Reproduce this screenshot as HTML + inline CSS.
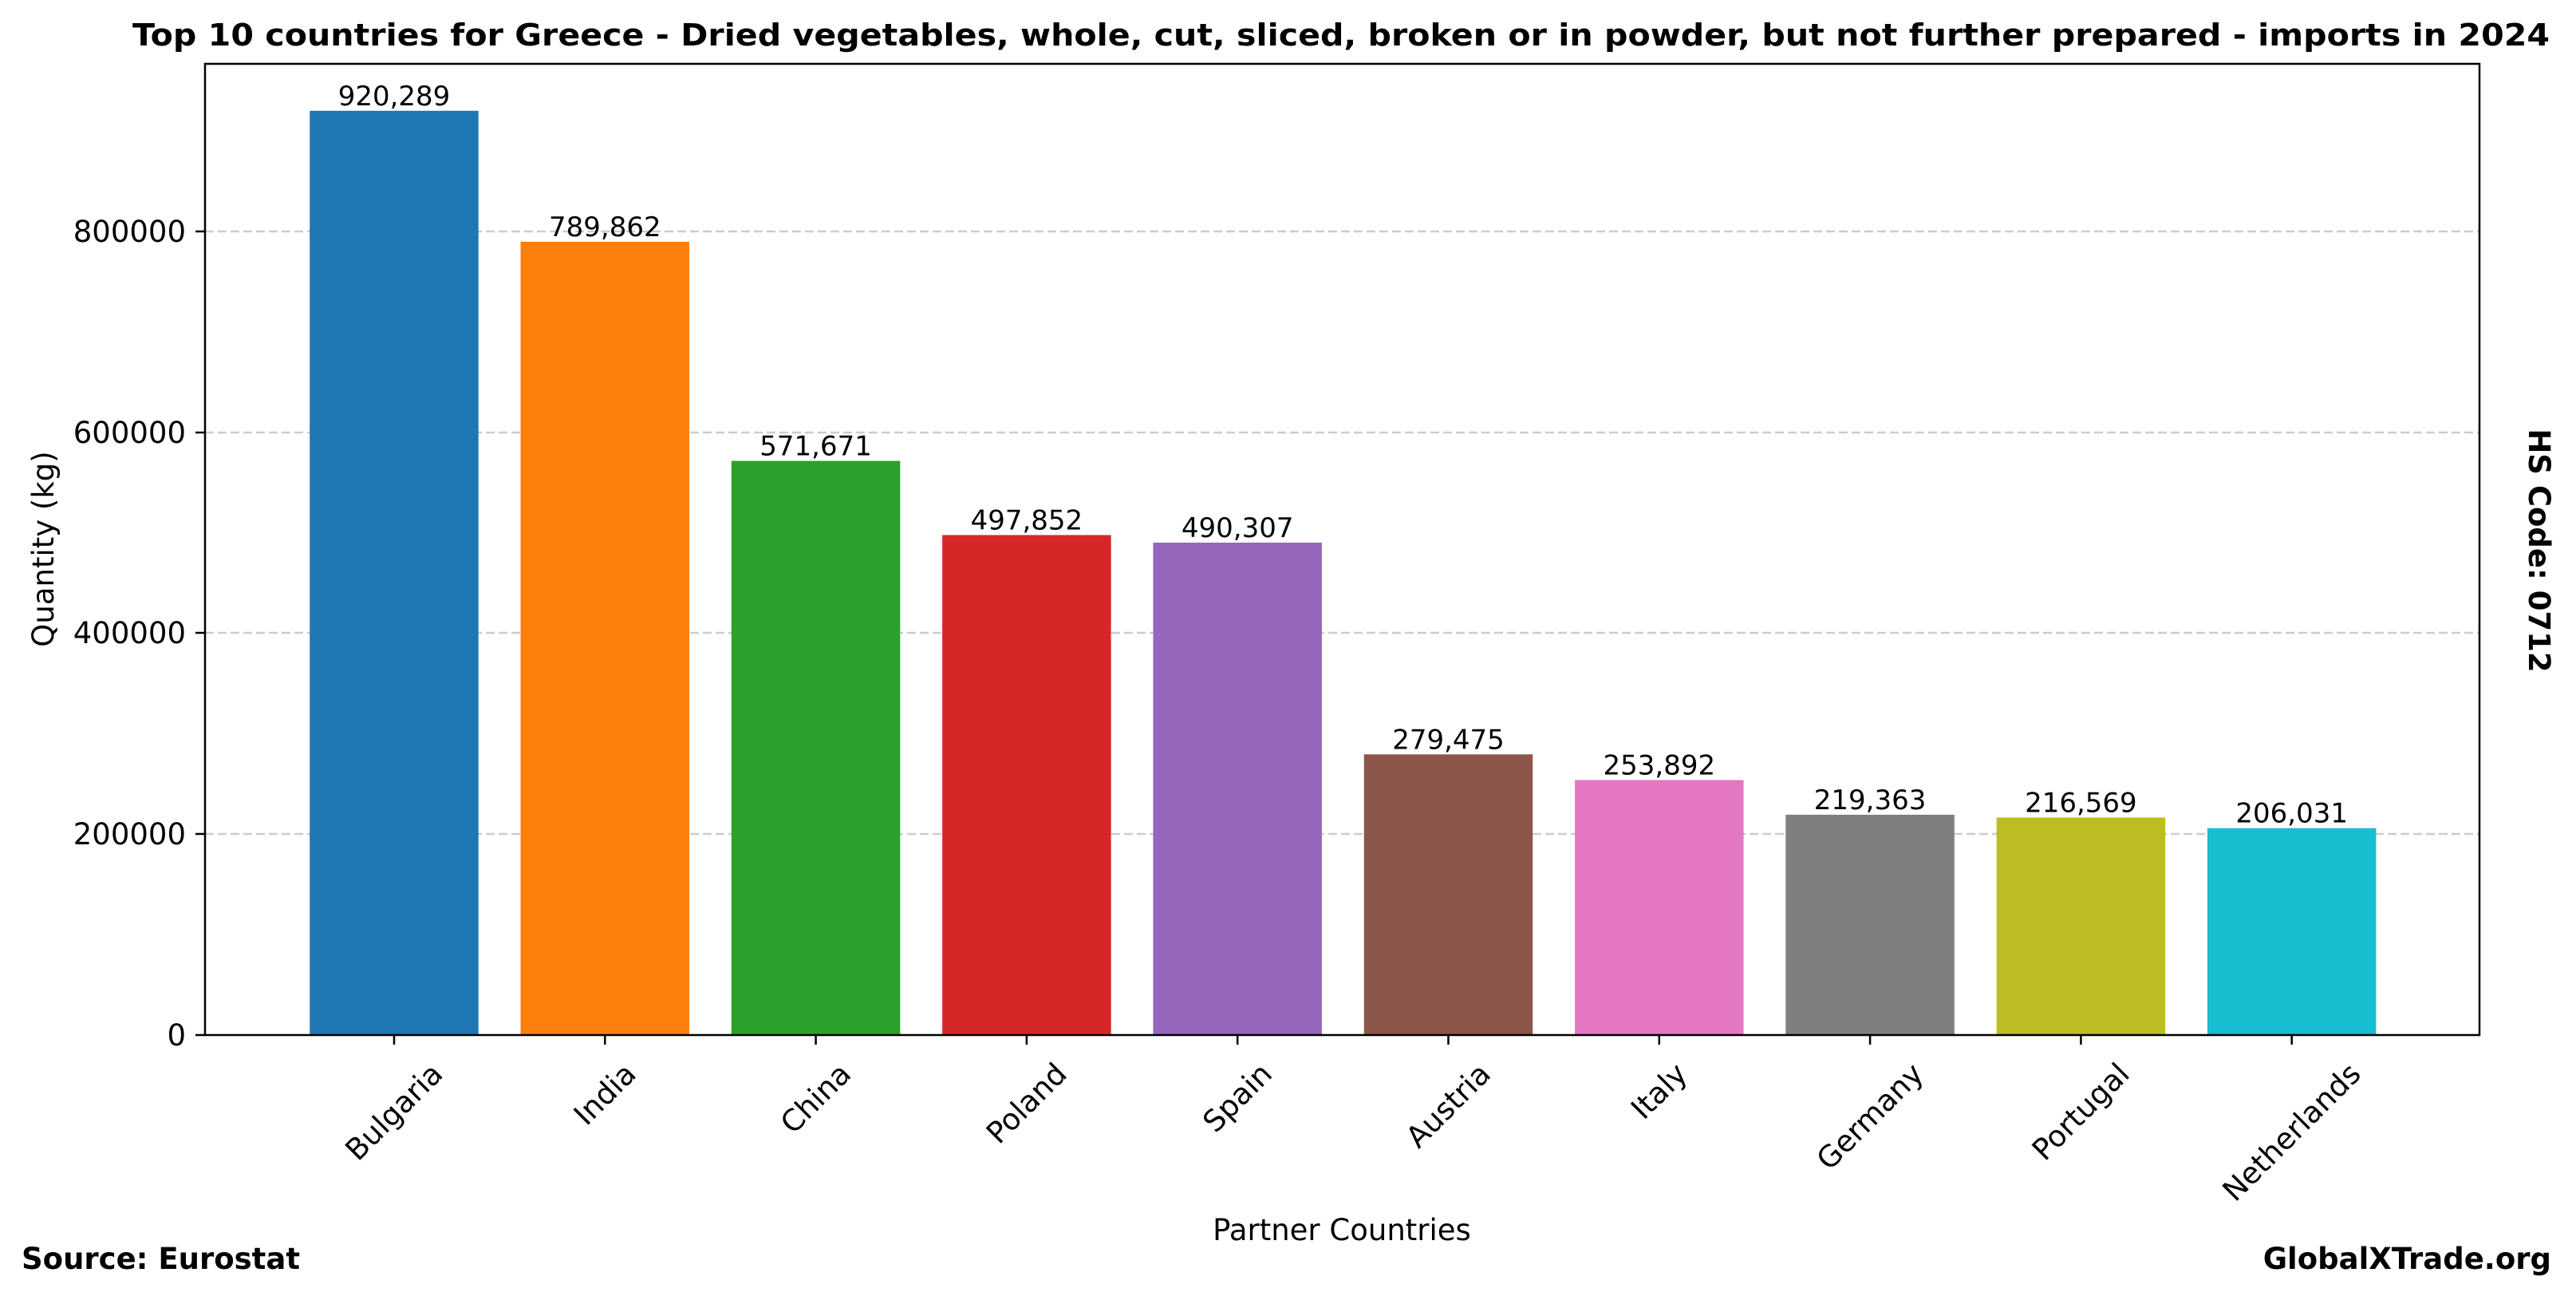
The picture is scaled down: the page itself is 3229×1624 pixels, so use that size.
<!DOCTYPE html>
<html><head><meta charset="utf-8"><style>
html,body{margin:0;padding:0;background:#fff;}
svg{display:block;font-family:"DejaVu Sans","Liberation Sans",sans-serif;}
</style></head><body>
<svg id="s" width="3229" height="1624" viewBox="0 0 3229 1624" xmlns="http://www.w3.org/2000/svg">
<rect width="3229" height="1624" fill="#fff"/>
<text x="1681" y="57" font-size="38" font-weight="bold" text-anchor="middle" textLength="3030" lengthAdjust="spacingAndGlyphs">Top 10 countries for Greece - Dried vegetables, whole, cut, sliced, broken or in powder, but not further prepared - imports in 2024</text>
<g stroke="#cccccc" stroke-width="2.5" stroke-dasharray="11,5">
<line x1="257" x2="3108" y1="290" y2="290"/>
<line x1="257" x2="3108" y1="542" y2="542"/>
<line x1="257" x2="3108" y1="793" y2="793"/>
<line x1="257" x2="3108" y1="1045" y2="1045"/>
</g>
<g id="bars"></g>
<rect x="257" y="80" width="2851" height="1217" fill="none" stroke="#000" stroke-width="2.5"/>
<g font-size="37" text-anchor="end">
<text x="233" y="1310">0</text>
<text x="233" y="1058">200000</text>
<text x="233" y="806">400000</text>
<text x="233" y="555">600000</text>
<text x="233" y="303">800000</text>
</g>
<g stroke="#000" stroke-width="2.5">
<line x1="245" x2="257" y1="1297" y2="1297"/>
<line x1="245" x2="257" y1="1045" y2="1045"/>
<line x1="245" x2="257" y1="793" y2="793"/>
<line x1="245" x2="257" y1="542" y2="542"/>
<line x1="245" x2="257" y1="290" y2="290"/>
</g>
<text transform="translate(67,688) rotate(-90)" font-size="37" text-anchor="middle">Quantity (kg)</text>
<text x="1682" y="1554" font-size="37" text-anchor="middle">Partner Countries</text>
<text x="27" y="1590" font-size="37" font-weight="bold">Source: Eurostat</text>
<text x="3198" y="1590" font-size="37" font-weight="bold" text-anchor="end">GlobalXTrade.org</text>
<text transform="translate(3170,690) rotate(90)" font-size="37" font-weight="bold" text-anchor="middle">HS Code: 0712</text>
</svg>
<script>
var data=[["Bulgaria",920289,"#1f77b4"],["India",789862,"#ff7f0e"],["China",571671,"#2ca02c"],["Poland",497852,"#d62728"],["Spain",490307,"#9467bd"],["Austria",279475,"#8c564b"],["Italy",253892,"#e377c2"],["Germany",219363,"#7f7f7f"],["Portugal",216569,"#bcbd22"],["Netherlands",206031,"#17becf"]];
var NS="http://www.w3.org/2000/svg",s=document.getElementById("s"),g=document.getElementById("bars");
function el(t,a,p,txt){var e=document.createElementNS(NS,t);for(var k in a)e.setAttribute(k,a[k]);if(txt)e.textContent=txt;(p||s).appendChild(e);return e;}
data.forEach(function(d,i){
 var cx=494+i*264.3,w=211.5,h=d[1]/200000*251.7,top=1297-h;
 el("rect",{x:cx-w/2,y:top,width:w,height:h,fill:d[2]},g);
 el("text",{x:cx,y:top-7,"font-size":"34","text-anchor":"middle"},s,d[1].toLocaleString("en-US"));
 el("line",{x1:cx,x2:cx,y1:1297,y2:1309,stroke:"#000","stroke-width":"2.5"});
 var t=el("text",{"font-size":"37","text-anchor":"middle","dominant-baseline":"central"},s,d[0]);
 var L=t.getComputedTextLength?t.getComputedTextLength():d[0].length*22;
 var hb=(L+37)*0.7071;
 var cy=1326+hb/2;
 t.setAttribute("transform","translate("+cx+","+cy+") rotate(-45)");
});
</script>
</body></html>
